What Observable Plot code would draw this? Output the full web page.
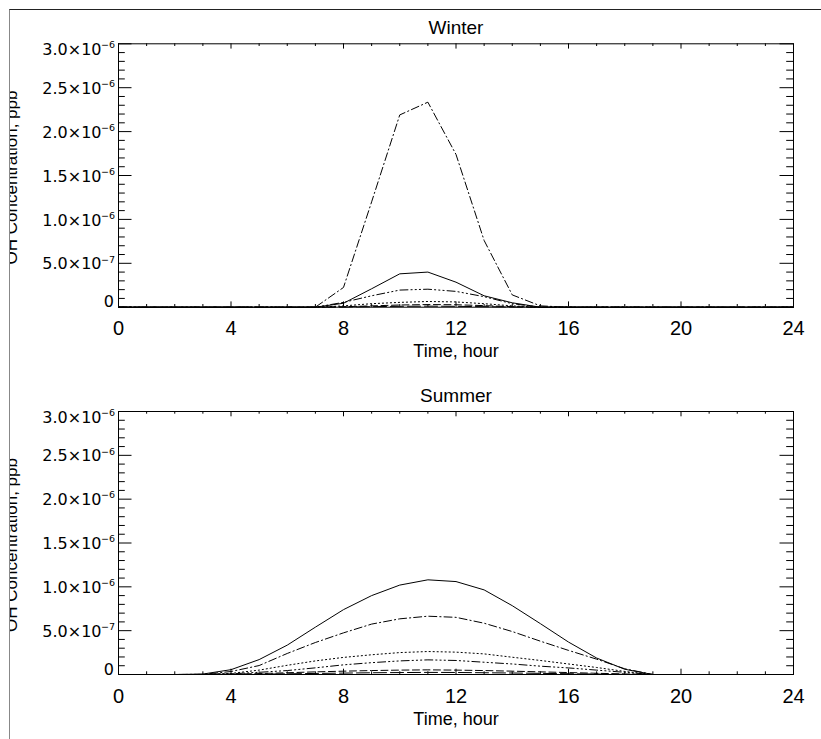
<!DOCTYPE html>
<html>
<head>
<meta charset="utf-8">
<script src="https://cdn.jsdelivr.net/npm/d3@7"></script>
<script src="https://cdn.jsdelivr.net/npm/@observablehq/plot@0.6"></script>
<style>
  html, body { margin: 0; padding: 0; background: #fff; }
  #wrap { position: relative; width: 821px; height: 739px; overflow: hidden; background: #fff; font-family: "Liberation Sans", Arial, sans-serif; }
  .panel { position: absolute; left: 0; }
  #mask { position: absolute; left: 0; top: 0; width: 9px; height: 739px; background: #fff; }
  #border { position: absolute; left: 9px; top: 9px; width: 830px; height: 760px; border-top: 1px solid #222; border-left: 1px solid #888; box-sizing: border-box; }
</style>
</head>
<body>
<div id="wrap">
  <div id="p1" class="panel" style="top:0px"></div>
  <div id="p2" class="panel" style="top:370px"></div>
  <div id="mask"></div>
  <div id="border"></div>
</div>
<script>
// ---------------- data ----------------
const hours = [0,1,2,3,4,5,6,7,8,9,10,11,12,13,14,15,16,17,18,19,20,21,22,23,24];

const xMajorTicks = [0,4,8,12,16,20,24];
const xMinorTicks = [1,2,3,5,6,7,9,10,11,13,14,15,17,18,19,21,22,23];
const yMajorTicks = [0,5e-7,1e-6,1.5e-6,2e-6,2.5e-6,3e-6];
const yTickMantissa = ["0","5.0×10","1.0×10","1.5×10","2.0×10","2.5×10","3.0×10"];
const yTickExponent = ["","−7","−6","−6","−6","−6","−6"];
const yMinorTicks = [1e-7,2e-7,3e-7,4e-7,6e-7,7e-7,8e-7,9e-7,1.1e-6,1.2e-6,1.3e-6,1.4e-6,1.6e-6,1.7e-6,1.8e-6,1.9e-6,2.1e-6,2.2e-6,2.3e-6,2.4e-6,2.6e-6,2.7e-6,2.8e-6,2.9e-6];

const panelTitles = ["Winter", "Summer"];
const xTitle = "Time, hour";
const yTitle = "OH Concentration, ppb";

// Winter series (hourly, 0..24)
const winterDashDot  = [0,0,0,0,0,0,0,0, 2.25e-7,1.2e-6,2.19e-6,2.335e-6,1.74e-6,7.6e-7,1.4e-7,1.5e-8, 0,0,0,0,0,0,0,0,0];
const winterSolid    = [0,0,0,0,0,0,0,0, 4.5e-8,2.1e-7,3.8e-7,4.0e-7,2.85e-7,1.3e-7,5e-8,0, 0,0,0,0,0,0,0,0,0];
const winterDash3Dot = [0,0,0,0,0,0,0,0, 5.5e-8,1.3e-7,1.95e-7,2.05e-7,1.8e-7,1.2e-7,4e-8,0, 0,0,0,0,0,0,0,0,0];
const winterDotted   = [0,0,0,0,0,0,0,0, 1.5e-8,4e-8,5.5e-8,6.5e-8,6e-8,4e-8,1.5e-8,0, 0,0,0,0,0,0,0,0,0];
const winterDashed   = [0,0,0,0,0,0,0,0, 5e-9,1.5e-8,2.5e-8,3e-8,2.8e-8,1.8e-8,6e-9,0, 0,0,0,0,0,0,0,0,0];
const winterLongDash = [0,0,0,0,0,0,0,0, 2e-9,6e-9,1e-8,1.2e-8,1e-8,6e-9,2e-9,0, 0,0,0,0,0,0,0,0,0];

// Summer series (hourly, 0..24)
const summerSolid    = [0,0,0, 5e-9,5.5e-8,1.7e-7,3.35e-7,5.4e-7,7.4e-7,9.0e-7,1.02e-6,1.08e-6,1.06e-6,9.65e-7,7.85e-7,5.8e-7,3.7e-7,1.88e-7,6e-8, 0,0,0,0,0,0];
const summerDashDot  = [0,0,0, 2e-9,3.4e-8,1.02e-7,2.4e-7,3.65e-7,4.75e-7,5.75e-7,6.35e-7,6.65e-7,6.52e-7,5.85e-7,4.9e-7,3.8e-7,2.75e-7,1.75e-7,6.5e-8, 0,0,0,0,0,0];
const summerDotted   = [0,0,0, 1e-9,1.2e-8,5e-8,1.05e-7,1.55e-7,1.95e-7,2.25e-7,2.5e-7,2.62e-7,2.55e-7,2.35e-7,1.97e-7,1.6e-7,1.2e-7,8e-8,3.5e-8, 0,0,0,0,0,0];
const summerDash3Dot = [0,0,0, 0,8e-9,2.5e-8,4.5e-8,7.6e-8,1.1e-7,1.35e-7,1.55e-7,1.67e-7,1.6e-7,1.4e-7,1.2e-7,9.5e-8,7.5e-8,5e-8,2.5e-8, 0,0,0,0,0,0];
const summerDashed   = [0,0,0, 0,3e-9,1e-8,2e-8,3e-8,3.8e-8,4.5e-8,5e-8,5.3e-8,5e-8,4.5e-8,3.8e-8,3e-8,2.2e-8,1.4e-8,6e-9, 0,0,0,0,0,0];
const summerLongDash = [0,0,0, 0,1e-9,4e-9,8e-9,1.2e-8,1.6e-8,2e-8,2.2e-8,2.4e-8,2.3e-8,2e-8,1.7e-8,1.3e-8,9e-9,5e-9,2e-9, 0,0,0,0,0,0];

// ---------------- styles ----------------
const DASH = {
  solid: null,
  dotted: "1.2,2.8",
  dashed: "7,3.5",
  dashdot: "8,3,1.2,3",
  dash3dot: "8,3,1.2,3,1.2,3,1.2,3",
  longdash: "13,4"
};

const winterSeries = [
  {values: winterLongDash, style: "longdash"},
  {values: winterDashed, style: "dashed"},
  {values: winterDotted, style: "dotted"},
  {values: winterDash3Dot, style: "dash3dot"},
  {values: winterSolid, style: "solid"},
  {values: winterDashDot, style: "dashdot"}
];
const summerSeries = [
  {values: summerLongDash, style: "longdash"},
  {values: summerDashed, style: "dashed"},
  {values: summerDash3Dot, style: "dash3dot"},
  {values: summerDotted, style: "dotted"},
  {values: summerDashDot, style: "dashdot"},
  {values: summerSolid, style: "solid"}
];

function panel(series, title, layout) {
  const W = 821;
  const fw = W - layout.ml - layout.mr;
  const fh = layout.h - layout.mt - layout.mb;
  const xMaj = 5.3, xMin = 2.7, yMaj = 13.5, yMin = 6.8;
  const marks = [];
  for (const s of series) {
    const rows = hours.map((h, i) => ({h, v: s.values[i]}));
    marks.push(Plot.line(rows, {x: "h", y: "v", stroke: "black", strokeWidth: 1,
      strokeDasharray: DASH[s.style], strokeLinejoin: "miter"}));
  }
  // ticks (inside the frame, on all four sides)
  marks.push(
    Plot.tickX(xMajorTicks, {x: d => d, insetTop: fh - xMaj, stroke: "black"}),
    Plot.tickX(xMajorTicks, {x: d => d, insetBottom: fh - xMaj, stroke: "black"}),
    Plot.tickX(xMinorTicks, {x: d => d, insetTop: fh - xMin, stroke: "black"}),
    Plot.tickX(xMinorTicks, {x: d => d, insetBottom: fh - xMin, stroke: "black"}),
    Plot.tickY(yMajorTicks, {y: d => d, insetRight: fw - yMaj, stroke: "black"}),
    Plot.tickY(yMajorTicks, {y: d => d, insetLeft: fw - yMaj, stroke: "black"}),
    Plot.tickY(yMinorTicks, {y: d => d, insetRight: fw - yMin, stroke: "black"}),
    Plot.tickY(yMinorTicks, {y: d => d, insetLeft: fw - yMin, stroke: "black"}),
    Plot.frame({stroke: "black", strokeWidth: 1})
  );
  // x tick labels
  marks.push(Plot.text(xMajorTicks, {x: d => d, frameAnchor: "bottom", dy: 28, lineAnchor: "bottom",
    text: d => String(d), fontSize: 20, fill: "black", ariaLabel: "xticklabel"}));
  // y tick labels (ends clamped inside the frame like the original)
  const idx = yMajorTicks.map((d, i) => i);
  const last = idx.length - 1;
  const mant = (sel, anchor, dx, dy) => Plot.text(sel, {y: i => yMajorTicks[i], text: i => yTickMantissa[i],
    frameAnchor: "left", textAnchor: "end", dx, dy, lineAnchor: anchor, fontSize: 16,
    fontFamily: "DejaVu Sans", fill: "black", ariaLabel: "ymantissa"});
  const expo = (sel, dy) => Plot.text(sel, {y: i => yMajorTicks[i], text: i => yTickExponent[i],
    frameAnchor: "left", textAnchor: "end", dx: -3.5, dy, lineAnchor: "top", fontSize: 9.5,
    fontFamily: "DejaVu Sans", fill: "black"});
  marks.push(
    mant([0], "bottom", -4.5, 0),
    mant(idx.filter(i => i > 0 && i < last), "middle", -17, 1),
    mant([last], "top", -17, 0),
    expo(idx.filter(i => i > 0 && i < last), -7.5),
    expo([last], -2.6)
  );
  // titles
  marks.push(
    Plot.text([title], {frameAnchor: "top", dy: -10, lineAnchor: "bottom", textAnchor: "middle",
      text: d => d, fontSize: 19, fill: "black", ariaLabel: "ptitle"}),
    Plot.text([xTitle], {frameAnchor: "bottom", dy: 50, lineAnchor: "bottom", textAnchor: "middle",
      text: d => d, fontSize: 18, fill: "black", ariaLabel: "xtitle"}),
    Plot.text([yTitle], {frameAnchor: "left", dx: 16.5 - layout.ml, dy: 2, rotate: -90, lineAnchor: "bottom",
      textAnchor: "middle", text: d => d, fontSize: 17, fill: "black", ariaLabel: "ytitle"})
  );
  const svg = Plot.plot({
    width: W,
    height: layout.h,
    marginLeft: layout.ml,
    marginRight: layout.mr,
    marginTop: layout.mt,
    marginBottom: layout.mb,
    x: {domain: [0, 24], axis: null},
    y: {domain: [0, 3e-6], axis: null},
    style: {fontFamily: "Liberation Sans, Arial, sans-serif", background: "transparent", overflow: "visible"},
    marks
  });
  const sp = {ymantissa: "1.5px", ptitle: "2.5px", xtitle: "0.8px", ytitle: "1px", xticklabel: "-1px"};
  for (const [k, v] of Object.entries(sp)) {
    d3.select(svg).selectAll(`g[aria-label="${k}"] text`).style("letter-spacing", v);
  }
  return svg;
}

document.getElementById("p1").appendChild(
  panel(winterSeries, panelTitles[0], {h: 370, ml: 118, mr: 28, mt: 43.3, mb: 63.3}));
document.getElementById("p2").appendChild(
  panel(summerSeries, panelTitles[1], {h: 369, ml: 118, mr: 28, mt: 41, mb: 65}));
</script>
</body>
</html>
